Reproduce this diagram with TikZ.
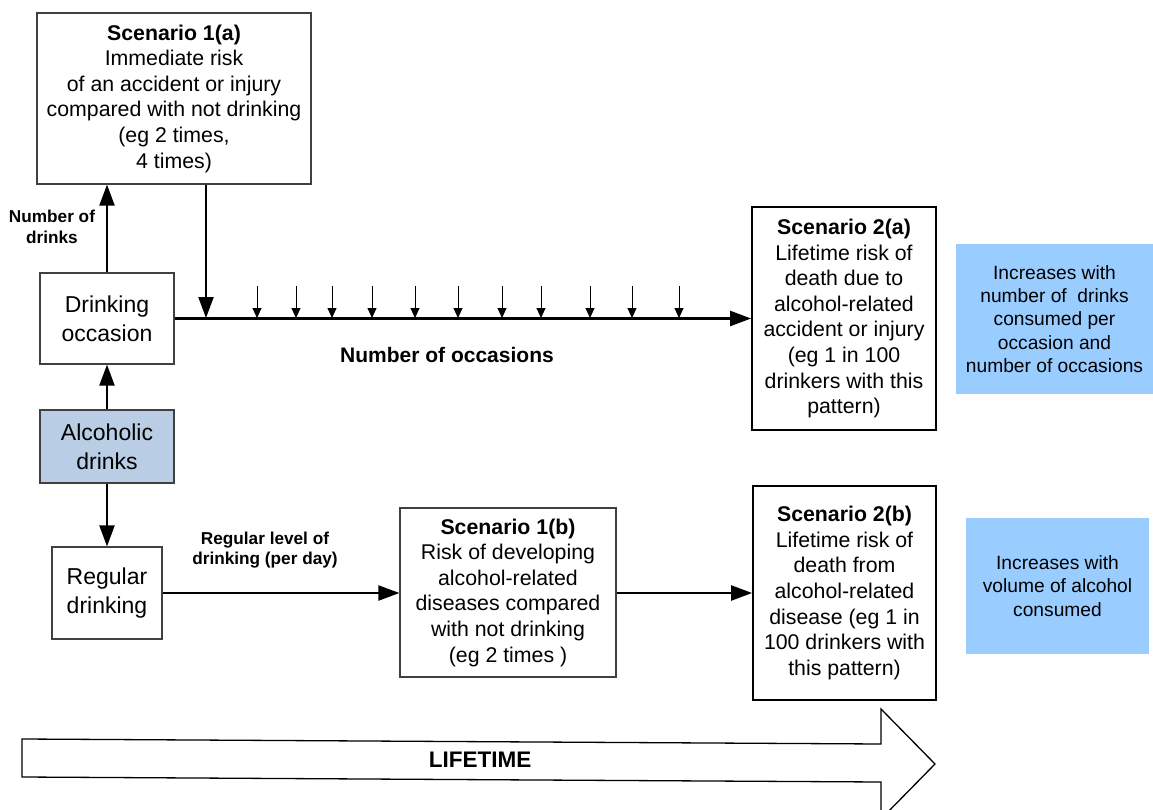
\documentclass[tikz,border=0pt]{standalone}
\usepackage{fontspec}
\setmainfont{Liberation Sans}
\usetikzlibrary{arrows.meta}
\definecolor{alcfill}{HTML}{B9CDE5}
\definecolor{infofill}{HTML}{99CCFF}
\tikzset{
  box/.style={draw=black!75, line width=1.2pt, fill=white, align=center, inner sep=0pt,
    font=\fontsize{21.3}{25.6}\selectfont},
  bigbox/.style={box, draw=black, line width=1.8pt},
  leftbox/.style={box, font=\fontsize{23}{29}\selectfont},
  infobox/.style={fill=infofill, align=center, inner sep=0pt, font=\fontsize{19.2}{23.3}\selectfont},
  lbl/.style={align=center, inner sep=0pt, font=\bfseries\fontsize{17.2}{20.5}\selectfont},
  conn/.style={line width=2.2pt, -{Triangle[length=21pt,width=15pt]}},
  tick/.style={line width=1pt, -{Triangle[length=10pt,width=9pt]}}
}
\begin{document}
\begin{tikzpicture}[x=1pt,y=-1pt]
\useasboundingbox (0,0) rectangle (1153,810);

% Lifetime arrow
\draw[line width=1.3pt, fill=white] (22,739) -- (881,744) -- (881,709) -- (935,764) -- (881,819) -- (881,782) -- (22,777) -- cycle;
\node[font=\bfseries\fontsize{22.5}{26}\selectfont] (life) at (480,760) {LIFETIME};

% Boxes
\node[box, minimum width=274pt, minimum height=171pt] (s1a) at (174,98.5)
  {\textbf{Scenario 1(a)}\\Immediate risk\\of an accident or injury\\compared with not drinking\\(eg 2 times,\\4 times)};
\node[leftbox, minimum width=134pt, minimum height=91pt] (docc) at (107,318.5) {Drinking\\occasion};
\node[leftbox, fill=alcfill, minimum width=134pt, minimum height=73pt] (alc) at (107,446.5) {Alcoholic\\drinks};
\node[leftbox, minimum width=110pt, minimum height=92pt] (reg) at (107,593) {Regular\\drinking};
\node[bigbox, minimum width=184pt, minimum height=223pt] (s2a) at (844,318.5)
  {\textbf{Scenario 2(a)}\\Lifetime risk of\\death due to\\alcohol-related\\accident or injury\\(eg 1 in 100\\drinkers with this\\pattern)};
\node[box, minimum width=216pt, minimum height=169pt] (s1b) at (508,592.5)
  {\textbf{Scenario 1(b)}\\Risk of developing\\alcohol-related\\diseases compared\\with not drinking\\(eg 2 times )};
\node[bigbox, minimum width=183pt, minimum height=214pt] (s2b) at (844.5,593)
  {\textbf{Scenario 2(b)}\\Lifetime risk of\\death from\\alcohol-related\\disease (eg 1 in\\100 drinkers with\\this pattern)};
\node[infobox, minimum width=197pt, minimum height=150pt] (inf1) at (1054.5,319)
  {Increases with\\number of\ \ drinks\\consumed per\\occasion and\\number of occasions};
\node[infobox, minimum width=183pt, minimum height=136pt] (inf2) at (1057.5,586)
  {Increases with\\volume of alcohol\\consumed};

% Labels
\node[lbl] (ndr) at (52,227) {Number of\\drinks};
\node[lbl] (rl) at (265,550) {Regular level of\\drinking (per day)};
\node[lbl, font=\bfseries\fontsize{21}{25}\selectfont] (nocc) at (447,355) {Number of occasions};

% Connectors
\draw[conn] (docc.north) -- (docc.north |- s1a.south);
\draw[conn] (alc.north) -- (docc.south);
\draw[conn] (alc.south) -- (reg.north);
\draw[conn] (docc.east) -- (s2a.west |- docc.east);
\coordinate (hit) at (206,318);
\draw[conn] (hit |- s1a.south) -- (hit);
\foreach \x [count=\i] in {257,296,332,372,415,458,502,541,590,632,679}{
  \coordinate (ta\i) at (\x,286);
  \coordinate (tb\i) at (\x,318);
  \draw[tick] (ta\i) -- (tb\i);
}
\draw[conn] (reg.east) -- (s1b.west |- reg.east);
\draw[conn] (s1b.east |- s2b.west) -- (s2b.west);
\end{tikzpicture}
\end{document}
